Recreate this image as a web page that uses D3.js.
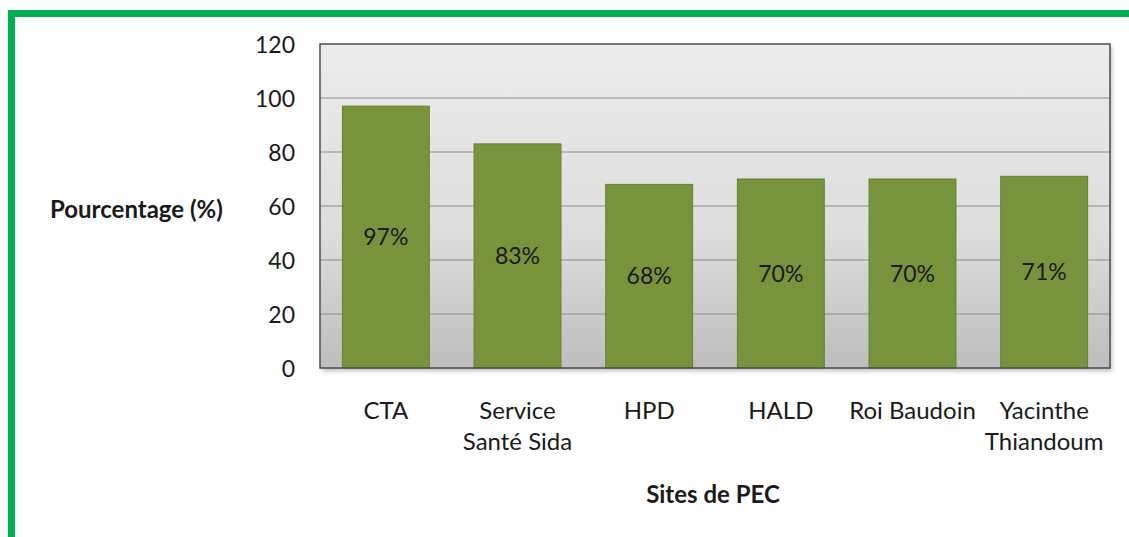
<!DOCTYPE html>
<html>
<head>
<meta charset="utf-8">
<script src="https://cdn.jsdelivr.net/npm/d3@7"></script>
<style>
  html, body { margin: 0; padding: 0; background: #ffffff; }
  svg { display: block; }
  text { font-family: Lato, "Open Sans", sans-serif; fill: #1a1a1a; }
</style>
</head>
<body>
<svg id="chart" width="1129" height="537"></svg>
<script>
const categories = [["CTA"], ["Service", "Santé Sida"], ["HPD"], ["HALD"], ["Roi Baudoin"], ["Yacinthe", "Thiandoum"]];
const values = [97, 83, 68, 70, 70, 71];
const valueLabels = ["97%", "83%", "68%", "70%", "70%", "71%"];
const yTicks = [0, 20, 40, 60, 80, 100, 120];
const yTitle = "Pourcentage (%)";
const xTitle = "Sites de PEC";

const W = 1129, H = 537;
const FONT = "Lato, 'Open Sans', sans-serif";
const svg = d3.select("#chart");
const defs = svg.append("defs");

// frame
svg.append("rect").attr("width", W).attr("height", H).attr("fill", "#fefefe");
svg.append("rect").attr("x", 8).attr("y", 10).attr("width", 7).attr("height", H - 10).attr("fill", "#00b050");
svg.append("rect").attr("x", 8).attr("y", 10).attr("width", W - 8).attr("height", 7).attr("fill", "#00b050");

const plot = { left: 320, top: 44, right: 1110, bottom: 368 };
const keys = categories.map((c, i) => i);
const x = d3.scaleBand().domain(keys).range([plot.left, plot.right]).paddingInner(0.34).paddingOuter(0.17);
const y = d3.scaleLinear().domain([0, 120]).range([plot.bottom, plot.top]);

const grad = defs.append("linearGradient").attr("id", "bg").attr("x1", 0).attr("y1", 0).attr("x2", 0).attr("y2", 1);
grad.append("stop").attr("offset", "0%").attr("stop-color", "#ececec");
grad.append("stop").attr("offset", "60%").attr("stop-color", "#dcdcdc");
grad.append("stop").attr("offset", "100%").attr("stop-color", "#bdbdbd");

const shadow = defs.append("filter").attr("id", "sh").attr("x", "-5%").attr("y", "-5%").attr("width", "115%").attr("height", "125%");
shadow.append("feDropShadow").attr("dx", 2).attr("dy", 3).attr("stdDeviation", 2).attr("flood-color", "#000").attr("flood-opacity", 0.25);

svg.append("rect")
  .attr("x", plot.left).attr("y", plot.top)
  .attr("width", plot.right - plot.left).attr("height", plot.bottom - plot.top)
  .attr("fill", "url(#bg)").attr("filter", "url(#sh)");

// gridlines
svg.append("g").selectAll("line").data(yTicks.filter(t => t > 0 && t < 120)).join("line")
  .attr("x1", plot.left).attr("x2", plot.right)
  .attr("y1", d => y(d)).attr("y2", d => y(d))
  .attr("stroke", "#8c8c8c").attr("stroke-width", 1);

// y axis labels
const yAxis = d3.axisLeft(y).tickValues(yTicks).tickSize(0).tickPadding(25);
const gy = svg.append("g").attr("transform", `translate(${plot.left},0)`).call(yAxis);
gy.select(".domain").remove();
gy.selectAll("text").attr("font-size", 23).attr("fill", "#1a1a1a").attr("dy", "0.35em")
  .style("font-family", FONT);

// bars
svg.append("g").selectAll("rect").data(values).join("rect")
  .attr("x", (d, i) => x(i)).attr("width", x.bandwidth())
  .attr("y", d => y(d)).attr("height", d => y(0) - y(d))
  .attr("fill", "#77933c").attr("stroke", "#65802f").attr("stroke-width", 1);

// value labels
svg.append("g").selectAll("text").data(values).join("text")
  .attr("x", (d, i) => x(i) + x.bandwidth() / 2)
  .attr("y", d => (y(d) + y(0)) / 2)
  .attr("dy", "0.35em").attr("text-anchor", "middle").attr("font-size", 23)
  .text((d, i) => valueLabels[i]);

// plot border
svg.append("rect")
  .attr("x", plot.left).attr("y", plot.top)
  .attr("width", plot.right - plot.left).attr("height", plot.bottom - plot.top)
  .attr("fill", "none").attr("stroke", "#4d4d4d").attr("stroke-width", 1.5);

// x axis labels
const xAxis = d3.axisBottom(x).tickSize(0).tickFormat(() => "");
const gx = svg.append("g").attr("transform", `translate(0,${plot.bottom})`).call(xAxis);
gx.select(".domain").remove();
gx.selectAll(".tick").each(function (d) {
  const t = d3.select(this).append("text")
    .attr("text-anchor", "middle").attr("font-size", 24).attr("fill", "#1a1a1a")
    .style("font-family", FONT);
  categories[d].forEach((line, j) => {
    t.append("tspan").attr("x", 0).attr("y", 51 + j * 31).text(line);
  });
});

// titles
svg.append("text").attr("x", 50).attr("y", 218).attr("font-size", 24).attr("font-weight", "bold").text(yTitle);
svg.append("text").attr("x", (plot.left + plot.right) / 2 - 2).attr("y", 503).attr("text-anchor", "middle")
  .attr("font-size", 24).attr("font-weight", "bold").text(xTitle);
</script>
</body>
</html>
